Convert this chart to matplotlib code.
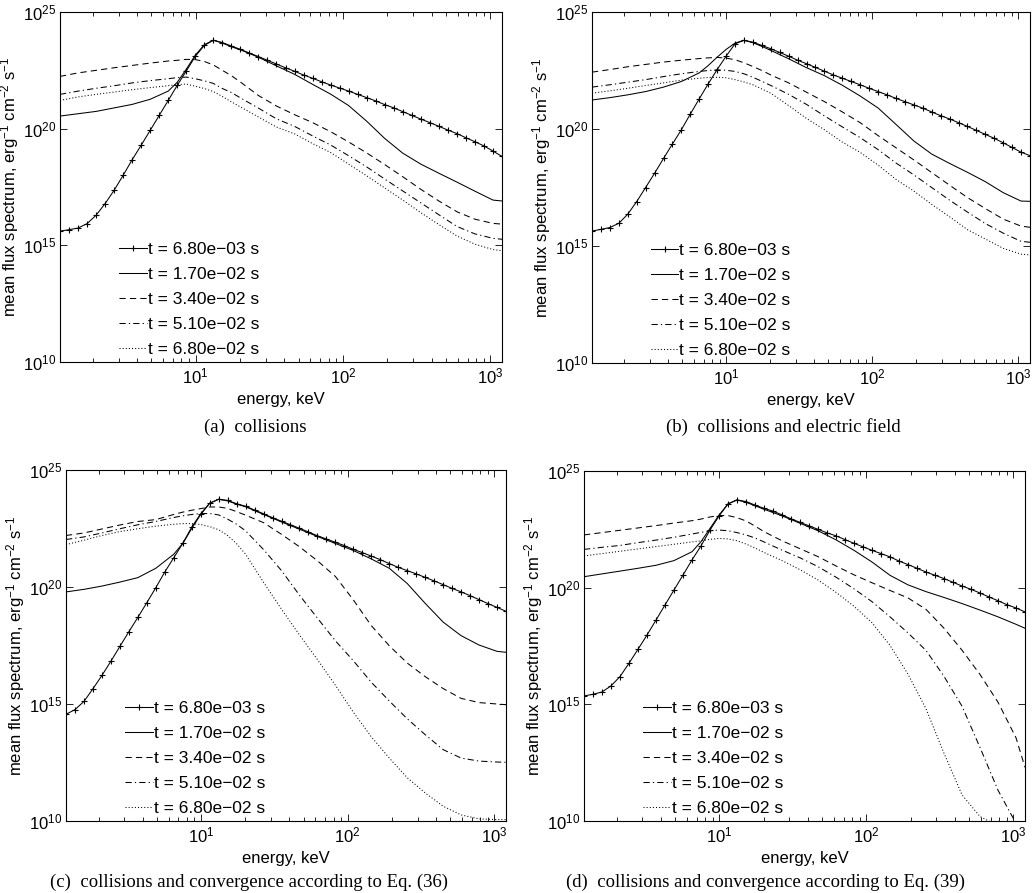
import matplotlib
matplotlib.use("Agg")
import matplotlib.pyplot as plt
import numpy as np
from matplotlib.ticker import LogLocator, NullLocator, NullFormatter, FixedLocator

plt.rcParams['font.family'] = ['Liberation Sans', 'DejaVu Sans']
plt.rcParams['mathtext.fontset'] = 'custom'
plt.rcParams['mathtext.rm'] = 'Liberation Sans'
plt.rcParams['mathtext.it'] = 'Liberation Sans:italic'

# ---------------- data (energies in keV, spectra as log10 values) ----------------
E_FINE = [1.2, 1.382, 1.591, 1.832, 2.109, 2.429, 2.796, 3.220, 3.707, 4.268,
          4.914, 5.658, 6.515, 7.501, 8.637, 9.945, 11.45, 13.18, 15.18, 17.48,
          20.12, 23.17, 26.68, 30.72, 35.37, 40.72, 46.89, 53.99, 62.16, 71.57,
          82.41, 94.89, 109.2, 125.8, 144.8, 166.7, 192.0, 221.1, 254.5, 293.1,
          337.5, 388.6, 447.4, 515.1, 593.1, 682.9, 786.3, 905.4, 1042, 1200]
E_COARSE = [1.2, 1.591, 2.109, 2.796, 3.707, 4.914, 6.515, 7.501, 8.637, 9.945,
            11.45, 13.18, 15.18, 17.48, 20.12, 26.68, 35.37, 46.89, 62.16, 82.41,
            109.2, 144.8, 192.0, 254.5, 337.5, 447.4, 593.1, 786.3, 1042, 1200]

TIMES = ["6.80e\u221203", "1.70e\u221202", "3.40e\u221202", "5.10e\u221202", "6.80e\u221202"]

# (a) collisions
A_T1 = [15.61, 15.67, 15.74, 15.93, 16.29, 16.79, 17.36, 18.0, 18.67, 19.29,
        19.93, 20.57, 21.21, 21.86, 22.47, 23.1, 23.57, 23.79, 23.69, 23.54,
        23.4, 23.24, 23.09, 22.93, 22.77, 22.61, 22.46, 22.3, 22.16, 22.01,
        21.87, 21.74, 21.61, 21.47, 21.33, 21.19, 21.03, 20.89, 20.73, 20.57,
        20.41, 20.26, 20.1, 19.94, 19.79, 19.61, 19.44, 19.26, 19.04, 18.81]
A_T2 = [20.54, 20.64, 20.74, 20.89, 21.04, 21.26, 21.61, 21.99, 22.55, 23.15,
        23.6, 23.79, 23.67, 23.51, 23.38, 23.06, 22.69, 22.33, 21.9, 21.48,
        20.99, 20.32, 19.58, 18.95, 18.48, 18.09, 17.71, 17.32, 16.94, 16.9]
A_T3 = [22.24, 22.39, 22.5, 22.61, 22.71, 22.81, 22.9, 22.93, 22.97, 22.96,
        22.88, 22.73, 22.5, 22.27, 22.0, 21.42, 20.97, 20.6, 20.26, 19.87,
        19.43, 18.96, 18.46, 17.94, 17.4, 16.9, 16.44, 16.12, 15.94, 15.91]
A_T4 = [21.47, 21.61, 21.73, 21.84, 21.96, 22.06, 22.14, 22.19, 22.21, 22.14,
        22.05, 21.94, 21.72, 21.55, 21.32, 20.88, 20.42, 20.1, 19.69, 19.3,
        18.84, 18.36, 17.84, 17.33, 16.82, 16.31, 15.81, 15.49, 15.3, 15.26]
A_T5 = [21.21, 21.36, 21.47, 21.57, 21.67, 21.76, 21.84, 21.89, 21.91, 21.82,
        21.72, 21.59, 21.38, 21.15, 20.93, 20.5, 20.07, 19.78, 19.36, 18.98,
        18.48, 17.98, 17.46, 16.94, 16.4, 15.89, 15.4, 15.05, 14.82, 14.77]

# (b) collisions and electric field
B_T1 = [15.64, 15.71, 15.79, 15.97, 16.36, 16.9, 17.5, 18.11, 18.74, 19.36,
        19.97, 20.64, 21.29, 21.93, 22.54, 23.11, 23.64, 23.79, 23.71, 23.57,
        23.43, 23.27, 23.11, 22.94, 22.79, 22.63, 22.47, 22.31, 22.17, 22.03,
        21.89, 21.74, 21.6, 21.46, 21.31, 21.17, 21.03, 20.89, 20.73, 20.57,
        20.43, 20.27, 20.11, 19.94, 19.77, 19.6, 19.41, 19.21, 19.01, 18.86]
B_T2 = [21.24, 21.34, 21.46, 21.6, 21.79, 22.03, 22.4, 22.71, 23.07, 23.4,
        23.67, 23.79, 23.69, 23.53, 23.36, 23.0, 22.62, 22.28, 21.87, 21.41,
        20.9, 20.2, 19.49, 18.93, 18.53, 18.15, 17.75, 17.28, 16.92, 16.91]
B_T3 = [22.43, 22.54, 22.66, 22.76, 22.86, 22.94, 23.01, 23.04, 23.06, 23.03,
        22.96, 22.83, 22.67, 22.5, 22.31, 21.97, 21.57, 21.17, 20.73, 20.27,
        19.72, 19.2, 18.68, 18.14, 17.6, 17.07, 16.6, 16.15, 15.85, 15.8]
B_T4 = [21.79, 21.89, 22.0, 22.11, 22.24, 22.36, 22.46, 22.5, 22.53, 22.51,
        22.46, 22.36, 22.21, 22.04, 21.86, 21.48, 21.05, 20.56, 20.09, 19.63,
        19.12, 18.55, 18.04, 17.5, 16.96, 16.45, 15.96, 15.55, 15.2, 15.16]
B_T5 = [21.53, 21.63, 21.74, 21.86, 21.97, 22.09, 22.17, 22.2, 22.21, 22.19,
        22.11, 22.01, 21.89, 21.71, 21.53, 21.0, 20.45, 19.97, 19.44, 19.0,
        18.46, 17.85, 17.35, 16.78, 16.25, 15.7, 15.3, 14.9, 14.65, 14.62]

# (c) collisions and convergence, Eq. (36)
C_T1 = [14.56, 14.76, 15.11, 15.65, 16.22, 16.83, 17.46, 18.09, 18.7, 19.33,
        19.97, 20.64, 21.25, 21.86, 22.56, 23.13, 23.58, 23.75, 23.7, 23.56,
        23.45, 23.29, 23.13, 22.96, 22.81, 22.66, 22.51, 22.35, 22.19, 22.05,
        21.91, 21.77, 21.61, 21.47, 21.32, 21.17, 21.0, 20.84, 20.7, 20.56,
        20.41, 20.26, 20.1, 19.94, 19.79, 19.63, 19.46, 19.29, 19.13, 18.96]
C_T2 = [19.79, 19.9, 20.04, 20.21, 20.4, 20.8, 21.4, 21.86, 22.5, 23.1,
        23.58, 23.75, 23.68, 23.54, 23.43, 23.1, 22.78, 22.47, 22.16, 21.86,
        21.56, 21.2, 20.8, 20.15, 19.3, 18.5, 17.92, 17.52, 17.25, 17.21]
C_T3 = [22.2, 22.31, 22.48, 22.65, 22.8, 22.88, 23.1, 23.2, 23.28, 23.35,
        23.42, 23.42, 23.36, 23.22, 23.07, 22.75, 22.25, 21.72, 21.12, 20.45,
        19.45, 18.35, 17.49, 16.75, 16.17, 15.66, 15.24, 15.06, 15.0, 14.97]
C_T4 = [22.03, 22.14, 22.31, 22.49, 22.66, 22.8, 22.97, 23.04, 23.1, 23.14,
        23.14, 23.08, 22.9, 22.68, 22.4, 21.6, 20.7, 19.65, 18.67, 17.7,
        16.85, 15.93, 15.13, 14.37, 13.69, 13.05, 12.69, 12.56, 12.52, 12.51]
C_T5 = [21.81, 22.0, 22.2, 22.37, 22.49, 22.6, 22.68, 22.71, 22.71, 22.67,
        22.58, 22.45, 22.2, 21.85, 21.4, 20.2, 19.05, 17.95, 16.9, 15.8,
        14.65, 13.6, 12.69, 11.85, 11.2, 10.63, 10.26, 10.09, 10.06, 10.06]

# (d) collisions and convergence, Eq. (39)
D_T1 = [15.36, 15.43, 15.53, 15.79, 16.19, 16.76, 17.36, 17.97, 18.61, 19.26,
        19.9, 20.54, 21.19, 21.79, 22.47, 23.07, 23.59, 23.76, 23.69, 23.54,
        23.4, 23.28, 23.12, 22.95, 22.8, 22.65, 22.5, 22.35, 22.22, 22.06,
        21.9, 21.75, 21.6, 21.46, 21.32, 21.14, 20.99, 20.83, 20.67, 20.53,
        20.39, 20.23, 20.07, 19.93, 19.77, 19.6, 19.44, 19.27, 19.13, 18.96]
D_T2 = [20.47, 20.59, 20.71, 20.83, 20.96, 21.16, 21.54, 21.97, 22.54, 23.11,
        23.59, 23.76, 23.66, 23.51, 23.36, 23.08, 22.76, 22.44, 22.05, 21.6,
        21.1, 20.53, 20.12, 19.83, 19.58, 19.32, 19.04, 18.75, 18.43, 18.26]
D_T3 = [22.26, 22.36, 22.46, 22.56, 22.66, 22.77, 22.87, 22.94, 23.03, 23.09,
        23.09, 23.0, 22.86, 22.64, 22.4, 22.01, 21.67, 21.33, 20.93, 20.55,
        20.21, 19.88, 19.56, 19.07, 18.26, 17.32, 16.28, 15.09, 13.57, 12.3]
D_T4 = [21.64, 21.73, 21.81, 21.93, 22.04, 22.16, 22.3, 22.37, 22.44, 22.47,
        22.44, 22.36, 22.26, 22.13, 21.96, 21.61, 21.28, 20.9, 20.45, 19.95,
        19.4, 18.75, 18.06, 17.31, 16.2, 14.92, 13.15, 11.32, 9.9, 9.5]
D_T5 = [21.36, 21.46, 21.56, 21.66, 21.76, 21.86, 21.96, 22.01, 22.07, 22.11,
        22.09, 22.01, 21.87, 21.7, 21.51, 21.16, 20.77, 20.33, 19.8, 19.2,
        18.5, 17.53, 16.29, 14.81, 12.9, 11.12, 10.19, 9.8, 9.6, 9.5]

CAPTIONS = ["(a)  collisions",
            "(b)  collisions and electric field",
            "(c)  collisions and convergence according to Eq. (36)",
            "(d)  collisions and convergence according to Eq. (39)"]

PANELS = [(A_T1, [A_T2, A_T3, A_T4, A_T5]),
          (B_T1, [B_T2, B_T3, B_T4, B_T5]),
          (C_T1, [C_T2, C_T3, C_T4, C_T5]),
          (D_T1, [D_T2, D_T3, D_T4, D_T5])]

# ---------------- layout / style ----------------
W, H = 1033, 893
fig = plt.figure(figsize=(W / 100, H / 100), dpi=100)

def rect(l, r, t, b):
    return [l / W, 1 - b / H, (r - l) / W, (b - t) / H]

AX_RECTS = [rect(60, 502, 12, 362), rect(592, 1030, 12, 363),
            rect(66, 506, 470, 821), rect(584, 1025, 471, 821)]
CAP_POS = [(255, 427), (783, 427), (249, 882), (765, 882)]

LINE_STYLES = ['-', (0, (6, 4)), (0, (6, 3, 1.2, 3)), (0, (1, 2))]
LW = 0.75

for i, (t1, rest) in enumerate(PANELS):
    ax = fig.add_axes(AX_RECTS[i])
    ax.plot(E_FINE, np.power(10.0, t1), color='black', lw=LW, marker='+',
            ms=5, mew=0.8, label=f"t = {TIMES[0]} s")
    for j, y in enumerate(rest):
        ax.plot(E_COARSE, np.power(10.0, y), color='black', lw=LW,
                linestyle=LINE_STYLES[j], label=f"t = {TIMES[j + 1]} s")
    ax.set_xscale('log')
    ax.set_yscale('log')
    ax.set_xlim(1.2, 1200)
    ax.set_ylim(1e10, 1e25)
    ax.xaxis.set_major_locator(FixedLocator([10, 100, 1000]))
    ax.xaxis.set_minor_locator(LogLocator(base=10, subs=np.arange(2, 10), numticks=20))
    ax.xaxis.set_minor_formatter(NullFormatter())
    ax.yaxis.set_major_locator(FixedLocator([1e10, 1e15, 1e20, 1e25]))
    ax.yaxis.set_minor_locator(NullLocator())
    ax.tick_params(which='both', direction='in', top=True, right=True,
                   labelsize=12, width=0.6)
    ax.tick_params(which='major', length=5, pad=3)
    ax.tick_params(which='minor', length=3)
    for s in ax.spines.values():
        s.set_linewidth(0.8)
    ax.set_xlabel("energy, keV", fontsize=12, labelpad=4)
    ax.set_ylabel("mean flux spectrum, erg$^{-1}$ cm$^{-2}$ s$^{-1}$",
                  fontsize=12, labelpad=1)
    ax.legend(loc='lower left', bbox_to_anchor=(0.122, 0.0), frameon=False,
              fontsize=12.5, handlelength=1.6, handletextpad=0.05,
              labelspacing=0.56, borderaxespad=0.0, borderpad=0.3)
    cx, cy = CAP_POS[i]
    fig.text(cx / W, 1 - cy / H, CAPTIONS[i], ha='center', va='center',
             fontsize=13.5, family=['Liberation Serif', 'DejaVu Serif'])

fig.savefig("out.png", dpi=100)
